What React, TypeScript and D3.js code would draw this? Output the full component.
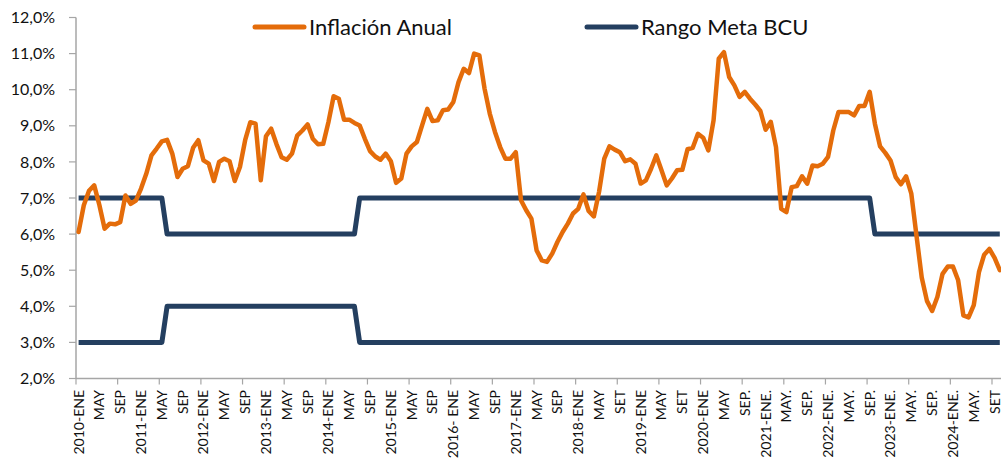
import React from 'react'
import * as d3 from 'd3'

const W = 1001
const H = 464

// inflación anual mensual, 2010-ENE .. 2024-OCT (%)
const inflacion = [
  6.06, 6.8, 7.2, 7.35, 6.8, 6.15, 6.29, 6.27, 6.33, 7.07, 6.84, 6.93,
  7.26, 7.67, 8.18, 8.37, 8.57, 8.61, 8.23, 7.58, 7.81, 7.88, 8.39, 8.6,
  8.04, 7.95, 7.47, 8.0, 8.09, 8.02, 7.47, 7.86, 8.6, 9.1, 9.06, 7.49,
  8.71, 8.92, 8.5, 8.13, 8.06, 8.23, 8.73, 8.87, 9.04, 8.64, 8.49, 8.5,
  9.1, 9.82, 9.75, 9.17, 9.17, 9.08, 9.01, 8.64, 8.3, 8.15, 8.06, 8.23,
  8.02, 7.42, 7.54, 8.23, 8.43, 8.55, 9.01, 9.47, 9.13, 9.15, 9.43, 9.45,
  9.66, 10.21, 10.58, 10.46, 11.0, 10.95, 10.03, 9.34, 8.83, 8.41, 8.09, 8.09,
  8.27, 6.94, 6.66, 6.43, 5.55, 5.27, 5.23, 5.46, 5.78, 6.06, 6.29, 6.57,
  6.7, 7.1, 6.64, 6.49, 7.17, 8.09, 8.43, 8.34, 8.27, 8.02, 8.07, 7.95,
  7.4, 7.49, 7.81, 8.18, 7.77, 7.35, 7.54, 7.77, 7.78, 8.35, 8.39, 8.78,
  8.67, 8.32, 9.15, 10.86, 11.04, 10.35, 10.12, 9.8, 9.94, 9.75, 9.59, 9.41,
  8.89, 9.11, 8.41, 6.7, 6.61, 7.3, 7.33, 7.6, 7.4, 7.9, 7.88, 7.95,
  8.14, 8.87, 9.38, 9.38, 9.38, 9.29, 9.55, 9.55, 9.94, 9.06, 8.43, 8.25,
  8.04, 7.58, 7.38, 7.6, 7.12, 5.95, 4.8, 4.15, 3.87, 4.26, 4.9, 5.1,
  5.1, 4.72, 3.75, 3.69, 4.03, 4.95, 5.43, 5.59, 5.34, 5.0
]

// cambios del rango meta BCU: [mes desde, piso, techo]
const rangoCambios = [
  [0, 3, 7],
  [17, 4, 6],
  [54, 3, 7],
  [153, 3, 6]
]

// una etiqueta cada 4 meses
const xLabels = [
  '2010-ENE', 'MAY', 'SEP', '2011-ENE', 'MAY', 'SEP', '2012-ENE', 'MAY', 'SEP',
  '2013-ENE', 'MAY', 'SEP', '2014-ENE', 'MAY', 'SEP', '2015-ENE', 'MAY', 'SEP',
  '2016- ENE', 'MAY', 'SEP', '2017-ENE', 'MAY', 'SEP', '2018-ENE', 'MAY', 'SET',
  '2019-ENE', 'MAY', 'SET', '2020-ENE', 'MAY', 'SEP.', '2021-ENE.', 'MAY.', 'SEP.',
  '2022-ENE.', 'MAY.', 'SEP.', '2023-ENE.', 'MAY.', 'SEP.', '2024-ENE.', 'MAY.', 'SET'
]

const yTicks = [2, 3, 4, 5, 6, 7, 8, 9, 10, 11, 12]

const ORANGE = '#E46C0A'
const NAVY = '#243F60'
const AXIS = '#A6A6A6'
const FONT = 'Lato, "Open Sans", sans-serif'

const App = () => {
  const n = inflacion.length
  const left = 76
  const step = 5.2045

  const x = d3
    .scaleBand<number>()
    .domain(d3.range(n))
    .range([left, left + n * step])
    .paddingInner(0)
    .paddingOuter(0)
  const cx = (i: number) => (x(i) as number) + x.bandwidth() / 2

  const y = d3.scaleLinear().domain([2, 12]).range([378.5, 17.5])

  const rango = d3.range(n).map(i => {
    const c = rangoCambios.filter(r => r[0] <= i).pop() as number[]
    return { piso: c[1], techo: c[2] }
  })

  const line = d3
    .line<number>()
    .x((d, i) => cx(i))
    .y(d => y(d))

  const fmt = d3.format('.1f')
  const axisY = y(2)
  const xEnd = left + n * step

  return (
    <svg width={W} height={H} style={{ display: 'block', background: '#fff' }}>
      <style>{'body{margin:0}'}</style>

      {/* eje Y */}
      <line x1={left} x2={left} y1={y(12)} y2={axisY} stroke={AXIS} strokeWidth={1.5} />
      {yTicks.map(t => (
        <g key={t} transform={'translate(0,' + y(t) + ')'}>
          <line x1={left - 7} x2={left} stroke={AXIS} strokeWidth={1.2} />
          <text x={55} dy="0.35em" textAnchor="end" fontFamily={FONT} fontSize={16} fill="#111">
            {fmt(t).replace('.', ',') + '%'}
          </text>
        </g>
      ))}

      {/* eje X */}
      <line x1={left} x2={xEnd} y1={axisY} y2={axisY} stroke={AXIS} strokeWidth={1.5} />
      {d3.range(0, n, 8).map(i => (
        <line key={i} x1={x(i)} x2={x(i)} y1={axisY} y2={axisY + 6} stroke={AXIS} strokeWidth={1.2} />
      ))}
      {xLabels.map((lab, k) => (
        <text
          key={k}
          transform={'translate(' + cx(k * 4) + ',390) rotate(-90)'}
          textAnchor="end"
          dy="0.35em"
          fontFamily={FONT}
          fontSize={14}
          fill="#111"
        >
          {lab}
        </text>
      ))}

      {/* rango meta */}
      <path d={line(rango.map(r => r.techo)) || ''} fill="none" stroke={NAVY} strokeWidth={5} strokeLinejoin="round" />
      <path d={line(rango.map(r => r.piso)) || ''} fill="none" stroke={NAVY} strokeWidth={5} strokeLinejoin="round" />

      {/* inflación */}
      <path d={line(inflacion) || ''} fill="none" stroke={ORANGE} strokeWidth={4.5} strokeLinejoin="round" strokeLinecap="round" />

      {/* leyenda */}
      <line x1={255} x2={304} y1={27} y2={27} stroke={ORANGE} strokeWidth={5} strokeLinecap="round" />
      <text x={309} y={35} fontFamily={FONT} fontSize={22} fill="#111">Inflación Anual</text>
      <line x1={587} x2={636} y1={27} y2={27} stroke={NAVY} strokeWidth={5} strokeLinecap="round" />
      <text x={641} y={35} fontFamily={FONT} fontSize={22} fill="#111">Rango Meta BCU</text>
    </svg>
  )
}

export default App
